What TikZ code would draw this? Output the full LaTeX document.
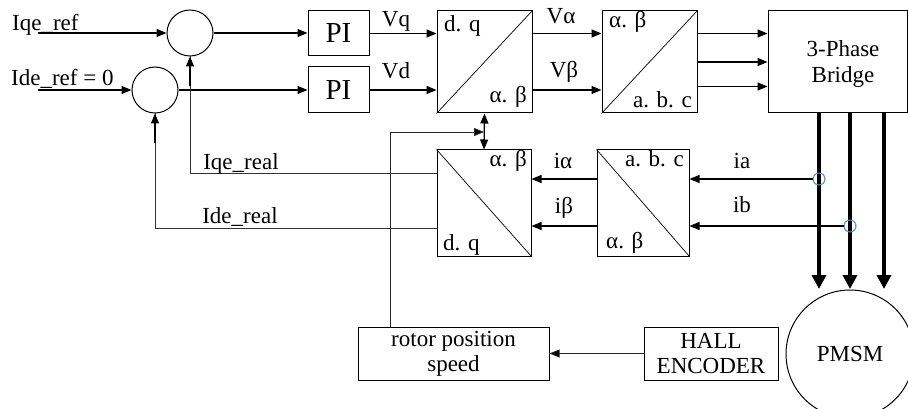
\documentclass[tikz,border=0pt]{standalone}
\usepackage{fontspec}
\setmainfont{Liberation Serif}
\usetikzlibrary{arrows.meta,calc}
\definecolor{sensblue}{RGB}{91,155,213}
\begin{document}
\begin{tikzpicture}[x=1pt,y=-1pt,
  box/.style={draw,line width=1pt,inner sep=0pt,rectangle,align=center,font=\fontsize{23}{25}\selectfont},
  sumc/.style={draw,circle,line width=1pt,inner sep=0pt,minimum size=46pt},
  lbl/.style={font=\fontsize{23}{25}\selectfont,inner sep=0pt,anchor=base},
  diag/.style={line width=0.7pt},
  arr/.style={line width=1.3pt,-{Triangle[length=10pt,width=8pt]}},
  arrthin/.style={line width=0.9pt,draw=black!85,-{Triangle[length=10pt,width=8pt,fill=black]}},
  fb/.style={line width=0.9pt,draw=black!80},
  motor/.style={line width=4.5pt,-{Triangle[length=14pt,width=14pt]}},
  sens/.style={draw=sensblue,circle,line width=0.9pt,inner sep=0pt,minimum size=12pt},
]
\useasboundingbox (0,0) rectangle (908,409);

% summing junctions
\node[sumc] (s1) at (190,33) {};
\node[sumc] (s2) at (155,90) {};

% PI controllers
\node[box,minimum width=61pt,minimum height=45pt,font=\fontsize{29}{30}\selectfont] (pi1) at (338.5,33.5) {PI};
\node[box,minimum width=61pt,minimum height=46pt,font=\fontsize{29}{30}\selectfont] (pi2) at (338.5,90) {PI};

% transform boxes
\node[box,minimum width=95pt,minimum height=102pt] (dq1) at (484.5,62) {};
\node[box,minimum width=95pt,minimum height=102pt] (ab1) at (649.5,62) {};
\node[box,minimum width=139pt,minimum height=102pt] (br) at (837.5,62) {};
\node[lbl,anchor=center,align=center,font=\fontsize{23}{26}\selectfont] (brt) at (843,64) {3-Phase\\Bridge};
\node[box,minimum width=92pt,minimum height=106pt] (abc2) at (643,203) {};
\node[box,minimum width=94pt,minimum height=106pt] (dq2) at (484,203) {};

% lower boxes
\node[box,minimum width=191pt,minimum height=53pt] (rot) at (453.5,353.5) {rotor position\\speed};
\node[box,minimum width=134pt,minimum height=53pt] (hall) at (711,353.5) {HALL\\ENCODER};
\node[draw,circle,line width=1pt,minimum size=128pt,inner sep=0pt,font=\fontsize{23}{25}\selectfont] (pmsm) at (850,354) {PMSM};

% diagonals
\draw[diag] (dq1.south west) -- (dq1.north east);
\draw[diag] (ab1.south west) -- (ab1.north east);
\draw[diag] (abc2.north west) -- (abc2.south east);
\draw[diag] (dq2.north west) -- (dq2.south east);

% corner labels
\node[lbl,anchor=base west] (l1) at (444,32) {d. q};
\node[lbl,anchor=base east] (l2) at (527,103) {α. β};
\node[lbl,anchor=base west] (l3) at (609,28) {α. β};
\node[lbl,anchor=base east] (l4) at (692,108) {a. b. c};
\node[lbl,anchor=base east] (l5) at (684,167) {a. b. c};
\node[lbl,anchor=base west] (l6) at (606,248) {α. β};
\node[lbl,anchor=base east] (l7) at (527,167) {α. β};
\node[lbl,anchor=base west] (l8) at (443,250) {d. q};

% inputs
\node[lbl,anchor=base west] (tiq) at (12,31) {Iqe\_ref};
\node[lbl,anchor=base west] (tid) at (11,86) {Ide\_ref = 0};
\coordinate (iq) at (38,33);
\coordinate (id) at (38,90);
\draw[arr] (iq) -- (s1.west);
\draw[arr] (id) -- (s2.west);

% forward path
\draw[arr] (s1.east) -- (s1.east -| pi1.west);
\draw[arr] (s2.east) -- (s2.east -| pi2.west);
\draw[arr] (pi1.east) -- (pi1.east -| dq1.west);
\draw[arr] (pi2.east) -- (pi2.east -| dq1.west);
\node[lbl] (tvq) at (396,27) {Vq};
\node[lbl] (tvd) at (396,79) {Vd};
\draw[arr] (dq1.east |- pi1.east) -- (ab1.west |- pi1.east);
\draw[arr] (dq1.east |- pi2.east) -- (ab1.west |- pi2.east);
\node[lbl] (tva) at (561,24) {Vα};
\node[lbl] (tvb) at (564,78) {Vβ};
\draw[arr] ($(ab1.north east)+(0,23)$) -- ($(br.north west)+(0,23)$);
\draw[arr,line width=1.6pt] (ab1.east) -- (br.west);
\draw[arr] ($(ab1.north east)+(0,76)$) -- ($(br.north west)+(0,76)$);

% motor lines
\node[sens] (sa) at (819,179) {};
\node[sens] (sb) at (850,226) {};
\coordinate (m1) at (819,289);
\coordinate (m2) at (850,289);
\coordinate (m3) at (884,289);
\draw[motor] (br.south -| m1) -- (m1);
\draw[motor] (br.south -| m2) -- (m2);
\draw[motor] (br.south -| m3) -- (m3);
\node[sens] at (sa) {};
\node[sens] at (sb) {};

% current feedback
\draw[arr] (sa.west) -- (sa.west -| abc2.east);
\draw[arr] (sb.west) -- (sb.west -| abc2.east);
\node[lbl] (tia) at (742,169) {ia};
\node[lbl] (tib) at (742,212) {ib};
\draw[arr] (abc2.west |- sa) -- (dq2.east |- sa);
\draw[arr] (abc2.west |- sb) -- (dq2.east |- sb);
\node[lbl] (tial) at (563,169) {iα};
\node[lbl] (tibe) at (564,213) {iβ};

% dq feedback to summing junctions
\coordinate (qr) at ($(dq2.north west)+(0,24)$);
\coordinate (dr) at ($(dq2.north west)+(0,79)$);
\draw[fb] (qr) -| (s1.south);
\draw[fb] (dr) -| (s2.south);
\draw[arr,line width=1.2pt] ($(s1.south)+(0,30)$) -- (s1.south);
\draw[arr,line width=1.2pt] ($(s2.south)+(0,30)$) -- (s2.south);
\node[lbl] (tiqr) at (241,170) {Iqe\_real};
\node[lbl] (tidr) at (240,223) {Ide\_real};

% rotor position path
\coordinate (rtop) at ($(rot.north west)+(33,0)$);
\coordinate (jt) at (484,132);
\draw[arrthin] (rtop) |- (jt);
\draw[line width=1.3pt,{Triangle[length=10pt,width=8pt]}-{Triangle[length=10pt,width=8pt]}] (dq1.south) -- (dq2.north);
\draw[arrthin] (hall.west) -- (rot.east);
\end{tikzpicture}
\end{document}
